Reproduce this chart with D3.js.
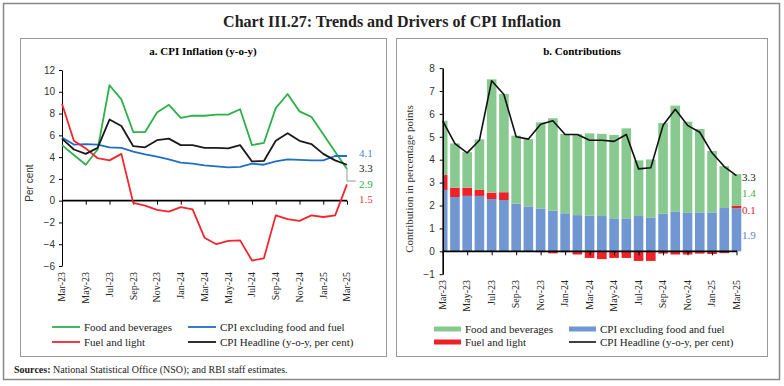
<!DOCTYPE html>
<html>
<head>
<meta charset="utf-8">
<script src="https://cdn.jsdelivr.net/npm/d3@7"></script>
<style>
  body { margin: 0; background: #fff; }
  svg { display: block; }
  .axis text { font-family: "Liberation Sans", Arial, sans-serif; font-size: 10px; fill: #333; }
  .axis path, .axis line { stroke: #000; }
  .serif { font-family: "Liberation Serif", "Times New Roman", serif; }
</style>
</head>
<body>
<svg id="chart" width="784" height="386"></svg>
<script>
// months shown on both panels
const months = ['Mar-23','Apr-23','May-23','Jun-23','Jul-23','Aug-23','Sep-23','Oct-23','Nov-23','Dec-23',
  'Jan-24','Feb-24','Mar-24','Apr-24','May-24','Jun-24','Jul-24','Aug-24','Sep-24','Oct-24','Nov-24','Dec-24',
  'Jan-25','Feb-25','Mar-25'];
const tickLabels = ['Mar-23','May-23','Jul-23','Sep-23','Nov-23','Jan-24','Mar-24','May-24','Jul-24','Sep-24','Nov-24','Jan-25','Mar-25'];

// a. CPI inflation (y-o-y, per cent)
const foodBev  = [5.1, 4.2, 3.3, 4.7, 10.6, 9.3, 6.3, 6.3, 8.1, 8.8, 7.6, 7.8, 7.8, 7.9, 7.9, 8.4, 5.1, 5.3, 8.5, 9.8, 8.2, 7.7, 6.1, 4.5, 2.9];
const coreInfl = [5.8, 5.15, 5.2, 5.15, 4.9, 4.85, 4.5, 4.25, 4.05, 3.8, 3.5, 3.4, 3.25, 3.15, 3.05, 3.1, 3.4, 3.3, 3.6, 3.8, 3.75, 3.7, 3.7, 4.1, 4.1];
const fuelInfl = [8.9, 5.5, 4.8, 3.9, 3.7, 4.3, -0.2, -0.45, -0.85, -1.0, -0.6, -0.8, -3.4, -4.0, -3.7, -3.65, -5.5, -5.3, -1.35, -1.7, -1.85, -1.35, -1.5, -1.35, 1.5];
const headline = [5.7, 4.7, 4.3, 4.85, 7.45, 6.85, 5.0, 4.9, 5.55, 5.7, 5.1, 5.1, 4.85, 4.85, 4.8, 5.1, 3.6, 3.65, 5.5, 6.2, 5.5, 5.2, 4.3, 3.7, 3.3];

// b. contributions (percentage points)
const coreContrib = [2.68, 2.37, 2.42, 2.42, 2.28, 2.24, 2.08, 1.96, 1.87, 1.77, 1.66, 1.58, 1.56, 1.54, 1.44, 1.44, 1.54, 1.48, 1.64, 1.74, 1.70, 1.70, 1.70, 1.89, 1.88];
const fuelContrib = [0.65, 0.41, 0.36, 0.26, 0.28, 0.34, -0.01, -0.02, -0.04, -0.09, -0.04, -0.14, -0.29, -0.34, -0.29, -0.29, -0.42, -0.42, -0.10, -0.14, -0.14, -0.10, -0.12, -0.08, 0.10];
const foodContrib = [2.37, 1.93, 1.55, 2.21, 4.95, 4.29, 2.97, 2.94, 3.76, 4.04, 3.46, 3.54, 3.59, 3.59, 3.64, 3.93, 2.43, 2.53, 3.96, 4.62, 3.96, 3.64, 2.68, 1.83, 1.39];

const leftTicks = [-6, -4, -2, 0, 2, 4, 6, 8, 10, 12];
const rightTicks = [-1, 0, 1, 2, 3, 4, 5, 6, 7, 8];

const svg = d3.select('#chart');

// frames and headings
svg.append('rect').attr('x', 3.5).attr('y', 3.5).attr('width', 776).attr('height', 376)
    .attr('fill', 'none').attr('stroke', '#888').attr('stroke-width', 1.5);
svg.append('rect').attr('x', 20.5).attr('y', 38.5).attr('width', 366).attr('height', 318)
    .attr('fill', 'none').attr('stroke', '#999');
svg.append('rect').attr('x', 396.5).attr('y', 38.5).attr('width', 371).attr('height', 318)
    .attr('fill', 'none').attr('stroke', '#999');

svg.append('text').attr('class', 'serif').attr('x', 392).attr('y', 27)
    .attr('text-anchor', 'middle').style('font-size', '16px').style('font-weight', 'bold').attr('fill', '#222')
    .text('Chart III.27: Trends and Drivers of CPI Inflation');

svg.append('text').attr('class', 'serif').attr('x', 14).attr('y', 373)
    .style('font-size', '10px').attr('fill', '#222')
    .call(t => {
      t.append('tspan').style('font-weight', 'bold').text('Sources: ');
      t.append('tspan').text('National Statistical Office (NSO); and RBI staff estimates.');
    });


class LineChart {

  constructor(_config) {
    this.config = _config;
    this.initVis();
  }

  initVis() {
    let vis = this;
    let c = vis.config;

    vis.xScale = d3.scalePoint().domain(months).range([62, 347]);
    vis.yScale = d3.scaleLinear().domain([-6, 12]).range([266, 70]);

    vis.g = svg.append('g');

    vis.g.append('text').attr('class', 'serif').attr('x', 203).attr('y', 55)
        .attr('text-anchor', 'middle').style('font-size', '11px').style('font-weight', 'bold')
        .text('a. CPI Inflation (y-o-y)');

    // y axis
    vis.g.append('g')
        .attr('class', 'axis')
        .attr('transform', 'translate(62,0)')
        .call(d3.axisLeft(vis.yScale).tickValues(leftTicks).tickSize(3).tickSizeOuter(0))
        .call(g => g.selectAll('text').attr('x', -7));

    vis.g.append('text')
        .attr('transform', 'translate(33,183) rotate(-90)')
        .attr('text-anchor', 'middle')
        .style('font-family', '"Liberation Sans", Arial, sans-serif').style('font-size', '10px').attr('fill', '#333')
        .text('Per cent');

    // x axis on the zero line
    vis.g.append('g')
        .attr('class', 'axis')
        .attr('transform', `translate(0,${vis.yScale(0)})`)
        .call(d3.axisBottom(vis.xScale).tickValues(tickLabels).tickSize(4).tickSizeOuter(0).tickFormat(''))
        .call(g => g.select('.domain').attr('stroke-width', 1.8).attr('d', `M62,0H347`));

    vis.g.selectAll('.xlab')
        .data(tickLabels)
        .join('text')
        .attr('class', 'serif xlab')
        .attr('transform', d => `translate(${vis.xScale(d)},272) rotate(-90)`)
        .attr('text-anchor', 'end')
        .attr('dy', '0.33em')
        .style('font-size', '10px')
        .attr('fill', '#222')
        .text(d => d);

    vis.series = [
      {name: 'Food and beverages', values: foodBev, color: '#2eb04b'},
      {name: 'CPI excluding food and fuel', values: coreInfl, color: '#1f6fc6'},
      {name: 'Fuel and light', values: fuelInfl, color: '#f5262b'},
      {name: 'CPI Headline (y-o-y, per cent)', values: headline, color: '#1a1a1a'}
    ];

    vis.renderVis();
  }

  renderVis() {
    let vis = this;

    let line = d3.line()
        .x((d, i) => vis.xScale(months[i]))
        .y(d => vis.yScale(d));

    vis.g.selectAll('.series')
        .data(vis.series)
        .join('path')
        .attr('class', 'series')
        .attr('fill', 'none')
        .attr('stroke', d => d.color)
        .attr('stroke-width', 1.8)
        .attr('stroke-linejoin', 'round')
        .attr('d', d => line(d.values));

    // end-of-series labels
    let last = months.length - 1;
    let xEnd = vis.xScale(months[last]);
    vis.g.append('path')
        .attr('d', `M${xEnd},${vis.yScale(foodBev[last])}V181H356`)
        .attr('fill', 'none').attr('stroke', '#999').attr('stroke-width', 1);

    let endLabels = [
      {v: coreInfl[last], y: 153, color: '#4f86cf'},
      {v: headline[last], y: 168.5, color: '#1a1a1a'},
      {v: foodBev[last], y: 184, color: '#2eb04b'},
      {v: fuelInfl[last], y: 199, color: '#f03a3a'}
    ];
    vis.g.selectAll('.endlab')
        .data(endLabels)
        .join('text')
        .attr('class', 'serif endlab')
        .attr('x', 359)
        .attr('y', d => d.y)
        .attr('dy', '0.35em')
        .style('font-size', '11px')
        .attr('fill', d => d.color)
        .text(d => d3.format('.1f')(d.v));

    // legend
    let legPos = [[52, 327], [188, 327], [52, 342], [188, 342]];
    let order = [0, 1, 2, 3];
    let leg = vis.g.selectAll('.leg')
        .data(order.map(i => vis.series[i]))
        .join('g')
        .attr('class', 'leg')
        .attr('transform', (d, i) => `translate(${legPos[i][0]},${legPos[i][1]})`);
    leg.append('line').attr('x1', 0).attr('x2', 28)
        .attr('stroke', d => d.color).attr('stroke-width', 1.8);
    leg.append('text').attr('class', 'serif').attr('x', 32).attr('dy', '0.35em')
        .style('font-size', '11px').attr('fill', '#222').text(d => d.name);
  }
}


class ContribChart {

  constructor(_config) {
    this.config = _config;
    this.initVis();
  }

  initVis() {
    let vis = this;

    vis.xScale = d3.scalePoint().domain(months).range([442.7, 736.5]);
    vis.yScale = d3.scaleLinear().domain([-1, 8]).range([274.2, 68.1]);
    vis.barWidth = 9.6;

    vis.g = svg.append('g');

    vis.g.append('text').attr('class', 'serif').attr('x', 582).attr('y', 55)
        .attr('text-anchor', 'middle').style('font-size', '11px').style('font-weight', 'bold')
        .text('b. Contributions');

    vis.g.append('clipPath').attr('id', 'plotClip')
      .append('rect').attr('x', 443).attr('y', 60).attr('width', 310).attr('height', 230);

    vis.data = months.map((m, i) => ({
      month: m, core: coreContrib[i], fuel: fuelContrib[i], food: foodContrib[i]
    }));

    vis.stack = d3.stack()
        .keys(['core', 'fuel', 'food'])
        .offset(d3.stackOffsetDiverging)(vis.data);

    vis.colors = {core: '#7097d2', fuel: '#ee2028', food: '#88c990'};

    vis.renderVis();
  }

  renderVis() {
    let vis = this;

    vis.g.append('g')
        .attr('clip-path', 'url(#plotClip)')
        .selectAll('.layer')
        .data(vis.stack)
        .join('g')
        .attr('class', 'layer')
        .attr('fill', d => vis.colors[d.key])
      .selectAll('rect')
        .data(d => d)
        .join('rect')
        .attr('x', d => vis.xScale(d.data.month) - vis.barWidth / 2)
        .attr('width', vis.barWidth)
        .attr('y', d => vis.yScale(d[1]))
        .attr('height', d => vis.yScale(d[0]) - vis.yScale(d[1]));

    // headline line
    let line = d3.line()
        .x((d, i) => vis.xScale(months[i]))
        .y(d => vis.yScale(d));
    vis.g.append('path')
        .attr('d', line(headline))
        .attr('fill', 'none').attr('stroke', '#111').attr('stroke-width', 1.6)
        .attr('stroke-linejoin', 'round');

    // axes
    vis.g.append('g')
        .attr('class', 'axis')
        .attr('transform', 'translate(442.7,0)')
        .call(d3.axisLeft(vis.yScale).tickValues(rightTicks).tickSize(3).tickSizeOuter(0))
        .call(g => g.select('.domain').attr('stroke-width', 1.6))
        .call(g => g.selectAll('text').attr('x', -8));

    vis.g.append('g')
        .attr('class', 'axis')
        .attr('transform', `translate(0,${vis.yScale(0)})`)
        .call(d3.axisBottom(vis.xScale).tickValues(tickLabels).tickSize(4).tickSizeOuter(0).tickFormat(''))
        .call(g => g.select('.domain').attr('stroke-width', 1.8).attr('d', 'M442.7,0H737'));

    vis.g.selectAll('.xlab')
        .data(tickLabels)
        .join('text')
        .attr('class', 'serif xlab')
        .attr('transform', d => `translate(${vis.xScale(d)},280) rotate(-90)`)
        .attr('text-anchor', 'end')
        .attr('dy', '0.33em')
        .style('font-size', '10px')
        .attr('fill', '#222')
        .text(d => d);

    vis.g.append('text')
        .attr('class', 'serif')
        .attr('transform', 'translate(413,179) rotate(-90)')
        .attr('text-anchor', 'middle')
        .style('font-size', '11px').attr('fill', '#333')
        .text('Contribution in percentage points');

    // end labels
    let last = months.length - 1;
    let endLabels = [
      {v: headline[last], y: 177, color: '#1a1a1a'},
      {v: foodContrib[last], y: 193.5, color: '#4aa84e'},
      {v: fuelContrib[last], y: 210, color: '#d0242a'},
      {v: coreContrib[last], y: 235, color: '#5b82c8'}
    ];
    vis.g.selectAll('.endlab')
        .data(endLabels)
        .join('text')
        .attr('class', 'serif endlab')
        .attr('x', 742)
        .attr('y', d => d.y)
        .attr('dy', '0.35em')
        .style('font-size', '11px')
        .attr('fill', d => d.color)
        .text(d => d3.format('.1f')(d.v));

    // legend
    let legItems = [
      {name: 'Food and beverages', type: 'rect', color: vis.colors.food, x: 434, y: 329},
      {name: 'CPI excluding food and fuel', type: 'rect', color: vis.colors.core, x: 569, y: 329},
      {name: 'Fuel and light', type: 'rect', color: vis.colors.fuel, x: 434, y: 342},
      {name: 'CPI Headline (y-o-y, per cent)', type: 'line', color: '#111', x: 569, y: 342}
    ];
    let leg = vis.g.selectAll('.leg')
        .data(legItems)
        .join('g')
        .attr('class', 'leg')
        .attr('transform', d => `translate(${d.x},${d.y})`);
    leg.filter(d => d.type === 'rect').append('rect')
        .attr('x', 0).attr('y', -2.5).attr('width', 27).attr('height', 5).attr('fill', d => d.color);
    leg.filter(d => d.type === 'line').append('line')
        .attr('x1', 0).attr('x2', 27).attr('stroke', d => d.color).attr('stroke-width', 1.6);
    leg.append('text').attr('class', 'serif').attr('x', 31).attr('dy', '0.35em')
        .style('font-size', '11px').attr('fill', '#222').text(d => d.name);
  }
}

new LineChart({});
new ContribChart({});
</script>
</body>
</html>
